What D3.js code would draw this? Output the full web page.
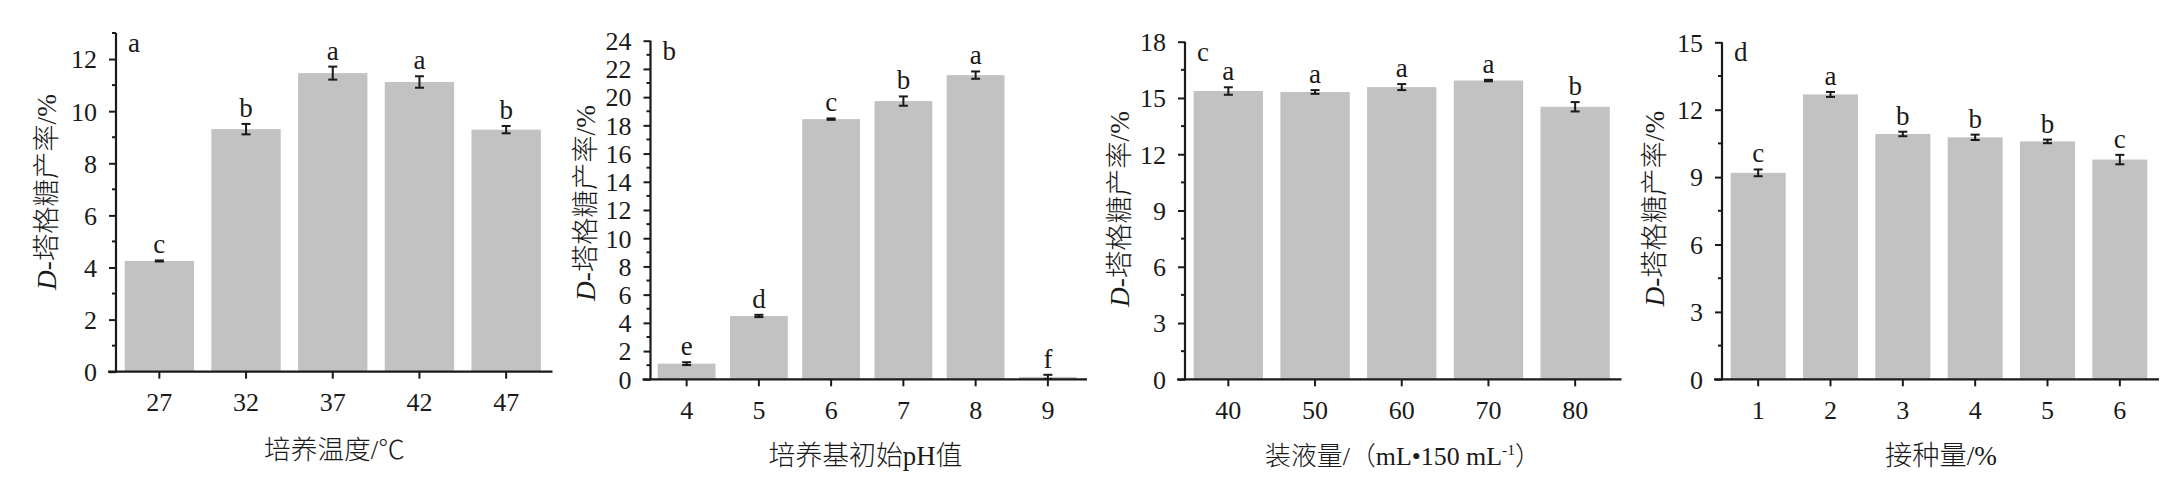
<!DOCTYPE html>
<html><head><meta charset="utf-8">
<script src="https://cdn.jsdelivr.net/npm/d3@7"></script>
<style>
html,body{margin:0;padding:0;background:#fff;}
svg text{font-family:"Liberation Serif",serif;fill:#1a1a1a;}
</style></head>
<body>
<svg id="chart" width="2177" height="496"></svg>
<script>
// ---- data ----
const catsA = ["27","32","37","42","47"];
const valsA = [4.25, 9.31, 11.46, 11.12, 9.29];
const errA  = [0.02, 0.20, 0.25, 0.22, 0.14];
const sigA  = ["c","b","a","a","b"];
const ticksA = [0,2,4,6,8,10,12];

const catsB = ["4","5","6","7","8","9"];
const valsB = [1.11, 4.49, 18.44, 19.72, 21.56, 0.17];
const errB  = [0.10, 0.08, 0.05, 0.33, 0.26, 0.15];
const sigB  = ["e","d","c","b","a","f"];
const ticksB = [0,2,4,6,8,10,12,14,16,18,20,22,24];

const catsC = ["40","50","60","70","80"];
const valsC = [15.37, 15.32, 15.58, 15.93, 14.53];
const errC  = [0.20, 0.10, 0.16, 0.04, 0.25];
const sigC  = ["a","a","a","a","b"];
const ticksC = [0,3,6,9,12,15,18];

const catsD = ["1","2","3","4","5","6"];
const valsD = [9.19, 12.68, 10.92, 10.77, 10.59, 9.78];
const errD  = [0.15, 0.11, 0.10, 0.12, 0.08, 0.21];
const sigD  = ["c","a","b","b","b","c"];
const ticksD = [0,3,6,9,12,15];

const panelLetters = ["a","b","c","d"];
const yTitle = "-塔格糖产率/%";
const xTitles = ["培养温度/℃","培养基初始pH值",null,"接种量/%"];

// ---- layout ----
const panels = [
  {cats:catsA, vals:valsA, err:errA, sig:sigA, ticks:ticksA, ymax:13, minorStep:1,
   left:116, right:549.5, top:33, bottom:371.7, pad:0.2,
   ylabX:46, ylabC:192, xtitleX:334.5, xtitleY:459, xtitleLen:141, letter:panelLetters[0], xtitle:xTitles[0]},
  {cats:catsB, vals:valsB, err:errB, sig:sigB, ticks:ticksB, ymax:24, minorStep:1,
   left:650.5, right:1084, top:40.7, bottom:379.3, pad:0.2,
   ylabX:585, ylabC:203, xtitleX:865.5, xtitleY:465, xtitleLen:194, letter:panelLetters[1], xtitle:xTitles[1]},
  {cats:catsC, vals:valsC, err:errC, sig:sigC, ticks:ticksC, ymax:18, minorStep:1.5,
   left:1185, right:1618.5, top:41.7, bottom:379.3, pad:0.2,
   ylabX:1119, ylabC:209, xtitleX:1403, xtitleY:465, xtitleLen:276, letter:panelLetters[2], xtitle:xTitles[2]},
  {cats:catsD, vals:valsD, err:errD, sig:sigD, ticks:ticksD, ymax:15, minorStep:1.5,
   left:1722, right:2156, top:42.3, bottom:379.3, pad:0.24,
   ylabX:1654, ylabC:208.7, xtitleX:1941, xtitleY:465, xtitleLen:112, letter:panelLetters[3], xtitle:xTitles[3]}
];
const yTitleLen = 196;

const svg = d3.select("#chart");
const AX = "#1a1a1a";
const CJK = '"Noto Sans CJK SC","Noto Sans CJK JP",sans-serif';
const isCJK = ch => /[\u3000-\u9fff\uff00-\uffef\u2103]/.test(ch);

function appendRuns(textSel, str) {
  let runs = [];
  for (const ch of str) {
    const c = isCJK(ch);
    if (runs.length && runs[runs.length-1].c === c) runs[runs.length-1].s += ch;
    else runs.push({c, s: ch});
  }
  runs.forEach(r => {
    const t = textSel.append("tspan").text(r.s);
    if (r.c) t.style("font-family", CJK).style("font-weight", 300);
  });
}
// scale a text element's font-size so its length matches target
function fitLen(textSel, baseSize, target) {
  const len = textSel.node().getComputedTextLength();
  if (len > 0) {
    const fs = Math.max(18, Math.min(32, baseSize * target / len));
    textSel.attr("font-size", fs);
  }
}

panels.forEach((p, pi) => {
  const g = svg.append("g");
  const x = d3.scaleBand().domain(p.cats).range([p.left, p.right]).paddingInner(p.pad).paddingOuter(p.pad/2);
  const y = d3.scaleLinear().domain([0, p.ymax]).range([p.bottom, p.top]);

  // bars
  g.selectAll("rect.bar").data(p.vals).join("rect")
    .attr("x", (d,i) => x(p.cats[i]))
    .attr("width", x.bandwidth())
    .attr("y", d => y(d))
    .attr("height", d => y(0) - y(d))
    .attr("fill", "#c2c2c2");

  // error bars
  const cw = 4.5;
  p.vals.forEach((v,i) => {
    const cx = x(p.cats[i]) + x.bandwidth()/2;
    const y1 = y(v + p.err[i]), y2 = y(Math.max(0, v - p.err[i]));
    g.append("line").attr("x1",cx).attr("x2",cx).attr("y1",y1).attr("y2",y2).attr("stroke",AX).attr("stroke-width",2);
    [y1,y2].forEach(yy => g.append("line").attr("x1",cx-cw).attr("x2",cx+cw).attr("y1",yy).attr("y2",yy).attr("stroke",AX).attr("stroke-width",2));
    g.append("text").attr("x",cx).attr("y",y1-7).attr("text-anchor","middle")
      .attr("font-size",27).text(p.sig[i]);
  });

  // y axis
  const yAxis = d3.axisLeft(y).tickValues(p.ticks).tickSize(7).tickPadding(12).tickFormat(d3.format("d"));
  const ya = g.append("g").attr("transform",`translate(${p.left},0)`).call(yAxis);
  ya.select(".domain").remove();
  ya.selectAll("line").attr("stroke",AX).attr("stroke-width",2);
  ya.selectAll("text").attr("font-size",26).attr("dy","0.34em").style("font-family","Liberation Serif");
  const minors = d3.range(0, p.ymax + 1e-6, p.minorStep).filter(v => !p.ticks.some(t => Math.abs(t - v) < 1e-6));
  g.selectAll("line.minor").data(minors).join("line")
    .attr("x1", p.left - 4).attr("x2", p.left).attr("y1", d => y(d)).attr("y2", d => y(d))
    .attr("stroke", AX).attr("stroke-width", 2);
  g.append("line").attr("x1",p.left).attr("x2",p.left).attr("y1",y(p.ymax)).attr("y2",y(0)+1)
    .attr("stroke",AX).attr("stroke-width",2.2);

  // x axis
  const xAxis = d3.axisBottom(x).tickSize(7).tickPadding(14);
  const xa = g.append("g").attr("transform",`translate(0,${p.bottom})`).call(xAxis);
  xa.select(".domain").remove();
  xa.selectAll("line").attr("stroke",AX).attr("stroke-width",2);
  xa.selectAll("text").attr("font-size",26).style("font-family","Liberation Serif");
  g.append("line").attr("x1",p.left-8).attr("x2",p.right+3).attr("y1",p.bottom).attr("y2",p.bottom)
    .attr("stroke",AX).attr("stroke-width",2.2);

  // panel letter
  g.append("text").attr("x",p.left+12).attr("y",p.top+19).attr("font-size",27).text(p.letter);

  // y title
  const yt = g.append("text").attr("transform",`translate(${p.ylabX},${p.ylabC}) rotate(-90)`)
    .attr("text-anchor","middle").attr("dy","0.35em").attr("font-size",25);
  yt.append("tspan").attr("font-style","italic").text("D");
  appendRuns(yt, yTitle);
  fitLen(yt, 25, yTitleLen);

  // x title
  const xt = g.append("text").attr("x",p.xtitleX).attr("y",p.xtitleY).attr("text-anchor","middle").attr("font-size",25);
  if (p.xtitle) {
    appendRuns(xt, p.xtitle);
  } else {
    appendRuns(xt, "装液量/（mL•150 mL");
    xt.append("tspan").attr("dy",-10).attr("font-size","0.6em").text("-1");
    xt.append("tspan").attr("dy",10).style("font-family",CJK).style("font-weight",300).text("）");
  }
  fitLen(xt, 25, p.xtitleLen);
});
</script>
</body></html>
